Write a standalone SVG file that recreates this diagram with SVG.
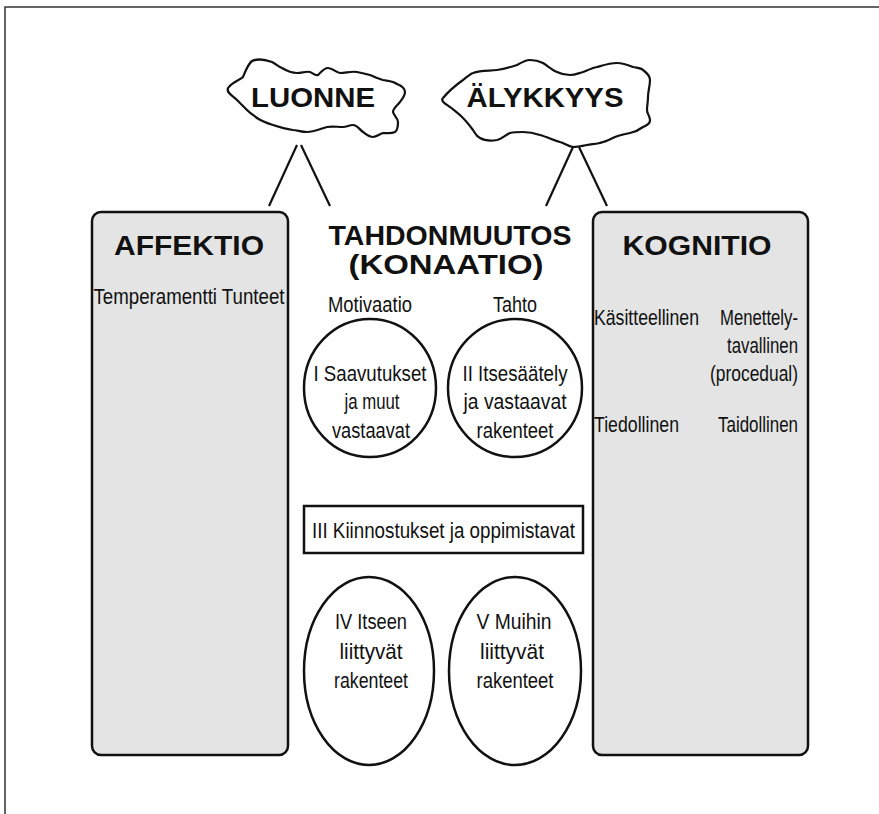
<svg xmlns="http://www.w3.org/2000/svg" width="879" height="814" viewBox="0 0 879 814">
<style>
.frame{fill:none;stroke:#333;stroke-width:1.5}
.box{fill:#e3e4e3;stroke:#111;stroke-width:2.5}
.ell{fill:#fff;stroke:#111;stroke-width:2.5}
.cloud{fill:#fff;stroke:#111;stroke-width:2.2;stroke-linejoin:round}
.conn{stroke:#111;stroke-width:2.2;fill:none}
.big{font-family:"Liberation Sans",Arial,sans-serif;font-weight:bold;font-size:28px;fill:#111;text-anchor:middle}
.t{font-family:"Liberation Sans Narrow","Liberation Sans",Arial,sans-serif;font-size:22px;fill:#111;text-anchor:middle}
.tl{text-anchor:start}
.tr{text-anchor:end}
</style>
<path class="frame" d="M5,814 V7 H879"/>
<g id="connectors">
<line class="conn" x1="297" y1="145" x2="269" y2="206"/>
<line class="conn" x1="301" y1="145" x2="330" y2="206"/>
<line class="conn" x1="573" y1="147" x2="546" y2="206"/>
<line class="conn" x1="579" y1="147" x2="607" y2="206"/>
</g>
<g id="luonne">
<path class="cloud" d="M228,88 C232,82 240,80 243,77 C246,70 248,64 252,61 C256,59 264,59 272,62 C276,64 279,67 282,68 C287,71 292,73 297,73 C302,73 306,71 310,72 C313,73 315,76 318,75 C321,72 324,68 328,68 C333,68 336,73 340,73 C346,73 351,71 357,72 C362,73 366,74 370,75 C375,77 379,79 383,80 C388,81 393,81 397,84 C402,86 405,89 405,92 C405,96 402,99 400,102 C397,106 393,108 393,112 C394,116 398,118 398,122 C398,126 398,130 395,132 C391,134 387,133 383,133 C379,134 377,137 373,137 C369,137 366,134 363,132 C359,129 357,125 353,125 C349,125 347,127 343,127 C337,127 332,126 327,127 C320,129 313,132 307,132 C301,132 297,130 293,130 C286,129 279,127 273,125 C267,123 261,121 257,118 C253,115 250,113 247,110 C243,106 240,103 237,100 C233,96 226,93 228,88 Z"/>
<text class="big" x="313" y="107" textLength="124" lengthAdjust="spacingAndGlyphs">LUONNE</text>
</g>
<g id="alykkyys">
<path class="cloud" d="M443,98 C448,92 456,85 463,80 C467,77 470,74 473,73 C481,70 489,71 497,70 C504,69 511,67 517,65 C522,62 526,60 530,60 C535,60 539,61 543,63 C548,66 552,70 557,72 C561,74 566,75 570,75 C575,75 579,73 583,72 C588,70 592,68 597,67 C604,65 610,63 617,63 C623,63 628,65 633,67 C637,68 641,68 643,70 C647,73 650,76 650,80 C650,86 648,91 648,97 C648,102 647,106 647,110 C647,114 650,116 650,120 C650,124 647,125 643,127 C639,130 635,132 630,133 C625,134 620,135 615,137 C611,139 607,141 603,142 C598,144 592,144 587,145 C582,146 577,147 573,147 C568,146 564,143 560,142 C553,140 547,137 540,135 C534,133 529,132 523,132 C518,132 514,132 510,133 C505,135 502,139 497,140 C491,141 485,141 480,138 C476,136 475,133 473,130 C470,126 467,122 463,118 C459,114 455,111 450,107 C446,104 440,101 443,98 Z"/>
<text class="big" x="545" y="107" textLength="157" lengthAdjust="spacingAndGlyphs">ÄLYKKYYS</text>
</g>
<g id="affektio">
<rect class="box" x="92" y="212" width="196" height="543" rx="9"/>
<text class="big" x="189" y="255" textLength="150" lengthAdjust="spacingAndGlyphs">AFFEKTIO</text>
<text class="t" x="189" y="304" textLength="191" lengthAdjust="spacingAndGlyphs">Temperamentti Tunteet</text>
</g>
<g id="kognitio">
<rect class="box" x="593" y="212" width="215" height="543" rx="9"/>
<text class="big" x="697" y="255" textLength="149" lengthAdjust="spacingAndGlyphs">KOGNITIO</text>
<text class="t tl" x="594" y="325" textLength="105" lengthAdjust="spacingAndGlyphs">Käsitteellinen</text>
<text class="t tr" x="798" y="325" textLength="78" lengthAdjust="spacingAndGlyphs">Menettely-</text>
<text class="t tr" x="798" y="353" textLength="71" lengthAdjust="spacingAndGlyphs">tavallinen</text>
<text class="t tr" x="798" y="381" textLength="88" lengthAdjust="spacingAndGlyphs">(procedual)</text>
<text class="t tl" x="594" y="432" textLength="85" lengthAdjust="spacingAndGlyphs">Tiedollinen</text>
<text class="t tr" x="798" y="432" textLength="80" lengthAdjust="spacingAndGlyphs">Taidollinen</text>
</g>
<g id="tahdonmuutos">
<text class="big" x="450" y="245" textLength="243" lengthAdjust="spacingAndGlyphs">TAHDONMUUTOS</text>
<text class="big" x="446" y="274" textLength="195" lengthAdjust="spacingAndGlyphs">(KONAATIO)</text>
<text class="t" x="370" y="312" textLength="84" lengthAdjust="spacingAndGlyphs">Motivaatio</text>
<text class="t" x="515" y="312" textLength="44" lengthAdjust="spacingAndGlyphs">Tahto</text>
</g>
<g id="saavutukset">
<ellipse class="ell" cx="370" cy="388" rx="66" ry="69"/>
<text class="t" x="370" y="381" textLength="113" lengthAdjust="spacingAndGlyphs">I Saavutukset</text>
<text class="t" x="372" y="409" textLength="55" lengthAdjust="spacingAndGlyphs">ja muut</text>
<text class="t" x="371" y="438" textLength="78" lengthAdjust="spacingAndGlyphs">vastaavat</text>
</g>
<g id="itsesaately">
<ellipse class="ell" cx="515" cy="388" rx="67" ry="69"/>
<text class="t" x="515" y="381" textLength="105" lengthAdjust="spacingAndGlyphs">II Itsesäätely</text>
<text class="t" x="515" y="409" textLength="103" lengthAdjust="spacingAndGlyphs">ja vastaavat</text>
<text class="t" x="515" y="438" textLength="77" lengthAdjust="spacingAndGlyphs">rakenteet</text>
</g>
<g id="kiinnostukset">
<rect x="304" y="506" width="279" height="47" fill="#fff" stroke="#111" stroke-width="2.5"/>
<text class="t" x="443.5" y="538" textLength="263" lengthAdjust="spacingAndGlyphs">III Kiinnostukset ja oppimistavat</text>
</g>
<g id="itseen">
<ellipse class="ell" cx="369" cy="671" rx="65" ry="94"/>
<text class="t" x="371" y="629" textLength="72" lengthAdjust="spacingAndGlyphs">IV Itseen</text>
<text class="t" x="371" y="659" textLength="63" lengthAdjust="spacingAndGlyphs">liittyvät</text>
<text class="t" x="371" y="688" textLength="74" lengthAdjust="spacingAndGlyphs">rakenteet</text>
</g>
<g id="muihin">
<ellipse class="ell" cx="515" cy="671" rx="66" ry="94"/>
<text class="t" x="514" y="629" textLength="75" lengthAdjust="spacingAndGlyphs">V Muihin</text>
<text class="t" x="512" y="659" textLength="64" lengthAdjust="spacingAndGlyphs">liittyvät</text>
<text class="t" x="515" y="688" textLength="77" lengthAdjust="spacingAndGlyphs">rakenteet</text>
</g>
</svg>
